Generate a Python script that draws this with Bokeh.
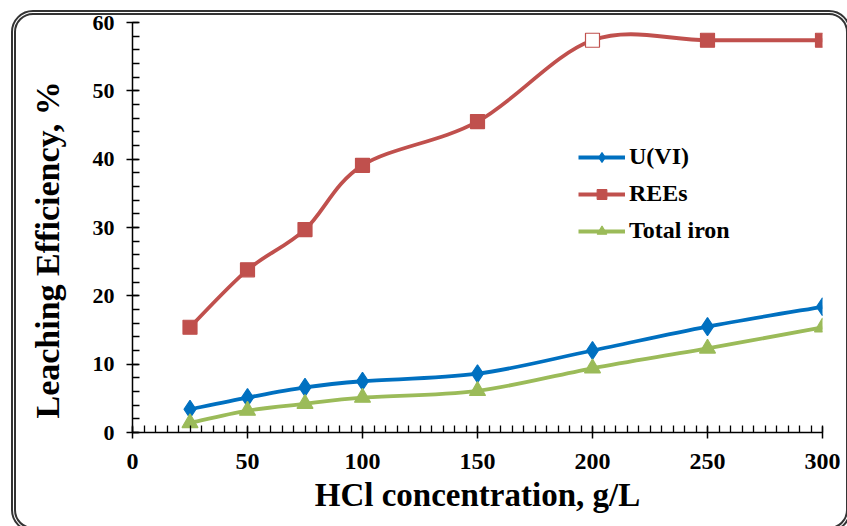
from bokeh.plotting import figure
from bokeh.models import (ColumnDataSource, FixedTicker, Legend, LegendItem,
                          Title, Range1d, InlineStyleSheet)
from bokeh.embed import file_html
from bokeh.resources import INLINE

# HCl concentration (g/L) and leaching efficiency (%) of each species
hcl = [25, 50, 75, 100, 150, 200, 250, 300]
u_vi = [3.4, 5.1, 6.6, 7.5, 8.6, 12.0, 15.5, 18.4]
rees = [15.4, 23.8, 29.7, 39.1, 45.5, 57.4, 57.4, 57.4]
total_iron = [1.4, 3.2, 4.2, 5.1, 6.1, 9.4, 12.3, 15.4]

x_ticks = [0, 50, 100, 150, 200, 250, 300]
y_ticks = [0, 10, 20, 30, 40, 50, 60]

FONT = "Liberation Serif"

# rounded double frame drawn around the whole chart
frame_css = InlineStyleSheet(css="""
:host { position: relative; overflow: hidden; }
:host::after {
  content: ""; position: absolute; left: 11px; top: 10px;
  width: 840px; height: 522px; box-sizing: border-box;
  border: 5px double #333; border-radius: 22px; pointer-events: none;
}
""")

p = figure(width=847, height=526, output_backend="svg", toolbar_location=None,
           x_range=Range1d(0, 300), y_range=Range1d(0, 60),
           min_border_left=132, min_border_right=25,
           min_border_top=22, min_border_bottom=94)
p.stylesheets = [frame_css]
p.outline_line_color = None
p.grid.visible = False
p.background_fill_color = "white"
p.border_fill_color = "white"


def smooth_segments(xs, ys):
    """Cubic Bezier pieces (Catmull-Rom style) through the given points."""
    n = len(xs)
    seg = dict(x0=[], y0=[], x1=[], y1=[], cx0=[], cy0=[], cx1=[], cy1=[])
    for i in range(n - 1):
        a = max(i - 1, 0)
        d = min(i + 2, n - 1)
        seg["x0"].append(xs[i]); seg["y0"].append(ys[i])
        seg["x1"].append(xs[i + 1]); seg["y1"].append(ys[i + 1])
        seg["cx0"].append(xs[i] + (xs[i + 1] - xs[a]) / 6)
        seg["cy0"].append(ys[i] + (ys[i + 1] - ys[a]) / 6)
        seg["cx1"].append(xs[i + 1] - (xs[d] - xs[i]) / 6)
        seg["cy1"].append(ys[i + 1] - (ys[d] - ys[i]) / 6)
    return ColumnDataSource(seg)


series = [
    ("U(VI)", u_vi, "#0070C0", "diamond", 18),
    ("REEs", rees, "#C0504D", "square", 14),
    ("Total iron", total_iron, "#9BBB59", "triangle", 16),
]

items = []
for name, ys, color, marker, size in series:
    curve = p.bezier(x0="x0", y0="y0", x1="x1", y1="y1", cx0="cx0", cy0="cy0",
                     cx1="cx1", cy1="cy1", source=smooth_segments(hcl, ys),
                     line_color=color, line_width=3.8)
    fills = [color] * len(hcl)
    if name == "REEs":
        fills[hcl.index(200)] = "white"
    src = ColumnDataSource(dict(x=hcl, y=ys, fill=fills))
    pts = p.scatter("x", "y", source=src, marker=marker, size=size,
                    fill_color="fill", line_color=color, line_width=1.2)
    items.append(LegendItem(label=name, renderers=[curve, pts]))

legend = Legend(items=items, location=(446, 188), orientation="vertical",
                glyph_width=47, glyph_height=24, label_height=24, spacing=10,
                padding=0, margin=0, label_standoff=4, border_line_color=None,
                background_fill_alpha=0,
                label_text_font=FONT, label_text_font_style="bold",
                label_text_font_size="24px", label_text_color="black")
p.add_layout(legend)

# axes
p.xaxis.ticker = FixedTicker(ticks=x_ticks, minor_ticks=list(range(0, 301, 5)))
p.yaxis.ticker = FixedTicker(ticks=y_ticks, minor_ticks=list(range(0, 61, 2)))
for ax in (p.xaxis[0], p.yaxis[0]):
    ax.axis_line_color = "black"
    ax.axis_line_width = 1.5
    ax.major_tick_line_color = "black"
    ax.major_tick_line_width = 1.5
    ax.minor_tick_line_color = "black"
    ax.minor_tick_line_width = 1.3
    ax.major_tick_out = 6
    ax.major_tick_in = 6
    ax.minor_tick_out = 0
    ax.minor_tick_in = 7
    ax.major_label_text_font = FONT
    ax.major_label_text_font_style = "bold"
    ax.major_label_text_color = "black"

p.xaxis.major_label_text_font_size = "24px"
p.yaxis.major_label_text_font_size = "22px"
p.xaxis.major_label_standoff = 15
p.yaxis.major_label_standoff = 12

# axis titles
p.add_layout(Title(text="HCl concentration, g/L", align="center", offset=10,
                   standoff=7, vertical_align="bottom",
                   text_font=FONT, text_font_style="bold",
                   text_font_size="33px", text_color="black"), "below")
p.add_layout(Title(text="Leaching Efficiency, %", align="left", offset=14,
                   standoff=45, vertical_align="middle",
                   text_font=FONT, text_font_style="bold",
                   text_font_size="34px", text_color="black"), "left")

open("out.html", "w").write(file_html(p, INLINE))
